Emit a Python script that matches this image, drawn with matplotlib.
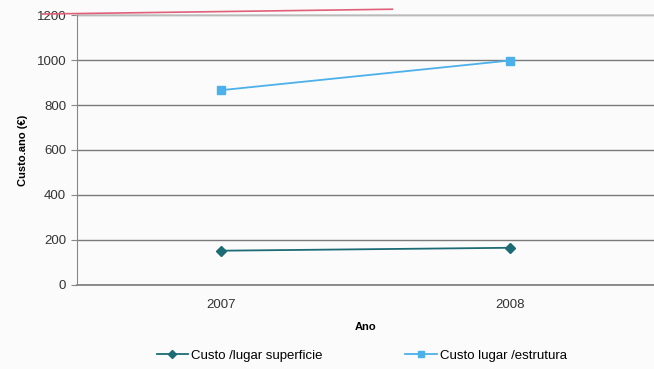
import matplotlib.pyplot as plt
import matplotlib.lines as mlines

# data
anos = ['2007', '2008']
custo_superficie = [152, 165]
custo_estrutura = [866, 998]
yticks = [0, 200, 400, 600, 800, 1000, 1200]

col_sup = '#1d6b75'
col_est = '#4cb0ea'

plt.rcParams['font.family'] = ['Liberation Sans', 'DejaVu Sans']

fig = plt.figure(figsize=(6.54, 3.69), dpi=100)
fig.patch.set_facecolor('#fbfbfb')
ax = fig.add_axes([0.117, 0.228, 0.883, 0.731])
ax.set_facecolor('#fbfbfb')

x = [0.5, 1.5]
ax.plot(x, custo_superficie, color=col_sup, marker='D', markersize=5, lw=1.3,
        label='Custo /lugar superficie', zorder=5)
ax.plot(x, custo_estrutura, color=col_est, marker='s', markersize=6, lw=1.3,
        label='Custo lugar /estrutura', zorder=5)

ax.set_xlim(0, 2)
ax.set_ylim(0, 1200)
ax.set_yticks(yticks)
ax.set_xticks(x)
ax.set_xticklabels(anos)
ax.yaxis.grid(True, color='#7a7a7a', lw=1)
ax.axhline(0, color='#7a7a7a', lw=1.2, clip_on=False, zorder=1)
ax.axhline(1200, color='#c8c8c8', lw=1.2, clip_on=False, zorder=1)
ax.set_axisbelow(True)
for s in ['top', 'right', 'bottom']:
    ax.spines[s].set_visible(False)
ax.spines['left'].set_color('#888888')
ax.tick_params(axis='y', labelsize=9.5, color='#888888', length=4, labelcolor='#333333')
ax.tick_params(axis='x', labelsize=9.5, length=0, pad=10, labelcolor='#333333')

ax.set_ylabel('Custo.ano (€)', fontsize=8, fontweight='bold', labelpad=6)
ax.set_xlabel('Ano', fontsize=8, fontweight='bold', labelpad=8)

# handwritten red mark at the top of the scan
fig.add_artist(mlines.Line2D([0.065, 0.6], [0.962, 0.975], color='#e0607a', lw=1.2))

leg = fig.legend(loc='lower center', bbox_to_anchor=(0.553, -0.012), ncol=2, frameon=False,
                 fontsize=9.5, columnspacing=6.3, handlelength=2.4, handletextpad=0.2,
                 markerscale=0.75)

plt.savefig('out.png', dpi=100, facecolor=fig.get_facecolor())
